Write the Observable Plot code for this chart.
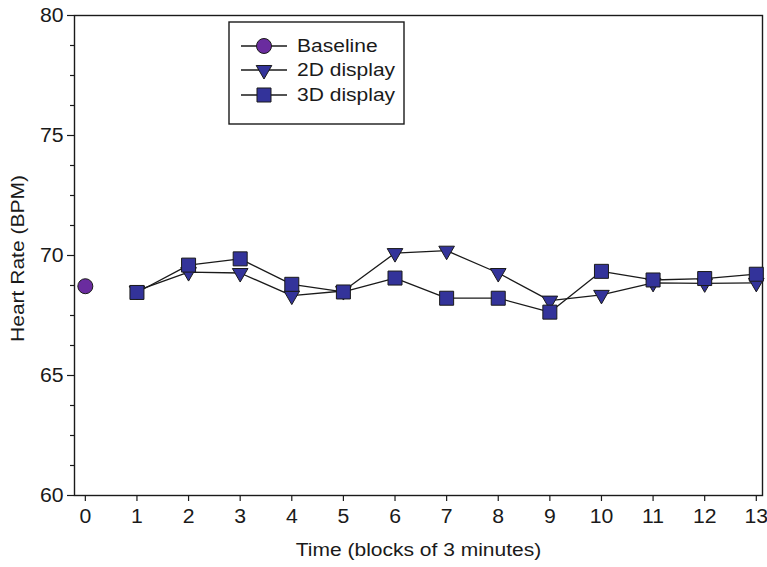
<!DOCTYPE html>
<html><head><meta charset="utf-8">
<script src="https://cdn.jsdelivr.net/npm/d3@7"></script>
<script src="https://cdn.jsdelivr.net/npm/@observablehq/plot@0.6"></script>
<style>
body{margin:0;background:#fff;font-family:"Liberation Sans",Arial,sans-serif}
</style>
</head><body><div id="chart"></div>
<script>
const baselineBlock = [0];
const baselineValues = [68.72];
const displayBlocks = [1,2,3,4,5,6,7,8,9,10,11,12,13];
const display2D = [68.54,69.31,69.27,68.33,68.52,70.1,70.2,69.27,68.12,68.36,68.86,68.84,68.86];
const display3D = [68.46,69.6,69.86,68.8,68.48,69.06,68.22,68.22,67.64,69.34,68.98,69.04,69.22];
const seriesNames = ["Baseline","2D display","3D display"];
const xTitle = "Time (blocks of 3 minutes)";
const yTitle = "Heart Rate (BPM)";
const xTickValues = [0,1,2,3,4,5,6,7,8,9,10,11,12,13];
const yTickValues = [60,65,70,75,80];
const yMinorTicks = [61.25,62.5,63.75,66.25,67.5,68.75,71.25,72.5,73.75,76.25,77.5,78.75];

const colors = {baseline:"#6a2c9f", display:"#33339a", stroke:"#1a1a1a"};

const base = baselineBlock.map((x,i)=>({x, y: baselineValues[i]}));
const d2 = displayBlocks.map((x,i)=>({x, y: display2D[i]}));
const d3d = displayBlocks.map((x,i)=>({x, y: display3D[i]}));

const chart = Plot.plot({
  width: 767, height: 567,
  marginLeft: 74, marginRight: 5, marginTop: 15, marginBottom: 72,
  style: {fontFamily: "Liberation Sans, Arial, sans-serif", color: "#1a1a1a", background: "#fff"},
  x: {domain: [-0.21, 13.12]},
  y: {domain: [60, 80]},
  marks: [
    Plot.axisY(yMinorTicks, {tickSize: 4, text: null, label: null, strokeWidth: 1.2}),
    Plot.axisY(yTickValues, {tickSize: 7, tickPadding: 4, fontSize: 20, strokeWidth: 1.2, label: null}),
    Plot.axisX(xTickValues, {tickSize: 6, tickPadding: 7, fontSize: 20, strokeWidth: 1.2, label: null}),
    Plot.text([yTitle], {frameAnchor: "left", textAnchor: "middle", dx: -56, dy: 3, rotate: -90, fontSize: 17.5, fill: "#1a1a1a"}),
    Plot.text([xTitle], {frameAnchor: "bottom", dy: 60, fontSize: 17.5, fill: "#1a1a1a"}),
    Plot.frame({stroke: colors.stroke, strokeWidth: 1.4}),
    Plot.line(d2, {x: "x", y: "y", stroke: colors.stroke, strokeWidth: 1.3}),
    Plot.line(d3d, {x: "x", y: "y", stroke: colors.stroke, strokeWidth: 1.3}),
    Plot.dot(d2, {x: "x", y: "y", symbol: "triangle", rotate: 180, r: 5.8, fill: colors.display, stroke: colors.stroke, strokeWidth: 1}),
    Plot.dot(d3d, {x: "x", y: "y", symbol: "square", r: 7.9, fill: colors.display, stroke: colors.stroke, strokeWidth: 1}),
    Plot.dot(base, {x: "x", y: "y", symbol: "circle", r: 7.5, fill: colors.baseline, stroke: colors.stroke, strokeWidth: 1})
  ]
});

// legend inside the plot
const svg = d3.select(chart);
const g = svg.append("g").attr("font-family","Liberation Sans, Arial, sans-serif").attr("text-anchor","start");
g.append("rect").attr("x",229).attr("y",22).attr("width",175).attr("height",102)
  .attr("fill","#fff").attr("stroke",colors.stroke).attr("stroke-width",1.4);
const legendSymbols = [
  {type: d3.symbolCircle, size: Math.PI*7.5*7.5, rot: 0, fill: colors.baseline},
  {type: d3.symbolTriangle, size: Math.PI*5.8*5.8, rot: 180, fill: colors.display},
  {type: d3.symbolSquare, size: Math.PI*7.9*7.9, rot: 0, fill: colors.display}
];
const rowY = [46, 70, 95];
seriesNames.forEach((name,i)=>{
  const y = rowY[i];
  g.append("line").attr("x1",241).attr("x2",287).attr("y1",y).attr("y2",y)
    .attr("stroke",colors.stroke).attr("stroke-width",1.3);
  g.append("path").attr("d", d3.symbol(legendSymbols[i].type, legendSymbols[i].size)())
    .attr("transform",`translate(264,${y}) rotate(${legendSymbols[i].rot})`)
    .attr("fill",legendSymbols[i].fill).attr("stroke",colors.stroke).attr("stroke-width",1);
  g.append("text").attr("x",297).attr("y",y).attr("dy","0.35em").attr("font-size",17.5)
    .attr("fill","#1a1a1a").attr("text-anchor","start").text(name);
});

document.getElementById("chart").appendChild(chart);

// the reference typeface is slightly wider: stretch each text along its reading direction
chart.querySelectorAll("text").forEach(t => {
  const s = t.textContent.trim();
  const k = /^\d+$/.test(s) ? 1.06 : 1.2;
  const len = t.getComputedTextLength();
  if (len > 0) {
    t.setAttribute("textLength", (len * k).toFixed(1));
    t.setAttribute("lengthAdjust", "spacingAndGlyphs");
  }
});
</script>
</body></html>
